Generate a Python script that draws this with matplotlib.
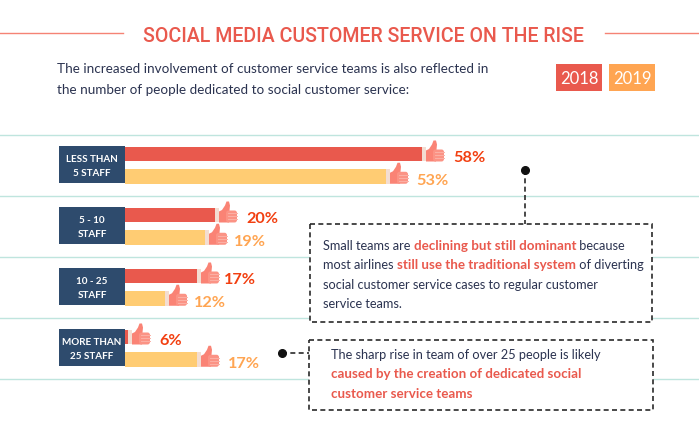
import matplotlib
matplotlib.use('Agg')
import matplotlib.pyplot as plt
import numpy as np
from matplotlib.patches import Rectangle, Polygon, FancyBboxPatch

# Values
categories = ['LESS THAN\n5 STAFF', '5 - 10\nSTAFF', '10 - 25\nSTAFF', 'MORE THAN\n25 STAFF']
values_2018 = [58, 20, 17, 6]
values_2019 = [53, 19, 12, 17]

title = 'SOCIAL MEDIA CUSTOMER SERVICE ON THE RISE'
intro = ['The increased involvement of customer service teams is also reflected in',
         'the number of people dedicated to social customer service:']
note_small = [[('Small teams are ', 0), ('declining but still dominant', 1), (' because', 0)],
              [('most airlines ', 0), ('still use the traditional system', 1), (' of diverting', 0)],
              [('social customer service cases to regular customer', 0)],
              [('service teams.', 0)]]
note_large = [[('The sharp rise in team of over 25 people is likely', 0)],
              [('caused by the creation of dedicated social', 1)],
              [('customer service teams', 1)]]

RED = '#E9594D'
YELLOW = '#FFCC73'
ORANGE = '#FFA552'
LABEL_RED = '#F23F10'
NAVY = '#2E4B6D'
INK = '#2B3350'
RULE = '#BFE5DE'
FONT = 'Lato'

W, H = 699, 435
fig = plt.figure(figsize=(W / 100, H / 100), dpi=100)

# page axes in pixels, y going down
page = fig.add_axes([0, 0, 1, 1])
page.set_xlim(0, W)
page.set_ylim(H, 0)
page.axis('off')

# the source bars are not quite linear, so the x scale follows its printed lengths
scale_pct = [0, 6, 12, 17, 19, 20, 53, 58, 100]
scale_px = [0, 3, 40, 72, 80, 90, 261, 297, 574]


def to_px(v):
    return np.interp(v, scale_pct, scale_px)


def from_px(p):
    return np.interp(p, scale_px, scale_pct)


chart = fig.add_axes([125 / W, 1 - 379.5 / H, 574 / W, 244 / H])
chart.set_xscale('function', functions=(to_px, from_px))
chart.set_xlim(0, 100)
chart.set_ylim(3.5, -0.5)
chart.axis('off')
chart.patch.set_alpha(0)

y_pos = np.arange(len(categories))
chart.barh(y_pos - 0.18, values_2018, height=0.245, color=RED, zorder=3)
chart.barh(y_pos + 0.185, values_2019, height=0.245, color=YELLOW, zorder=3)


def draw_hand(x, y):
    # x is the bar end, y the bar bottom, both in page pixels
    page.add_patch(Rectangle((x, y - 14.5), 4, 14.5, color='#F3DDD2', lw=0, zorder=5))
    thumb = [(x + 4, y - 11), (x + 7, y - 12.5), (x + 10, y - 17), (x + 11.5, y - 21),
             (x + 14, y - 21), (x + 15, y - 17), (x + 14.5, y - 12), (x + 14, y), (x + 4, y)]
    page.add_patch(Polygon(thumb, closed=True, color='#FA8375', lw=0, zorder=5))
    page.add_patch(FancyBboxPatch((x + 11, y - 12), 11, 12, boxstyle='round,pad=0,rounding_size=2.5',
                                  color='#FB9385', lw=0, zorder=5))
    for k in range(1, 4):
        page.plot([x + 12.5, x + 22], [y - k * 3] * 2, color='#FBB0A5', lw=0.7, zorder=6)


def run_width(s, **kw):
    # trailing spaces are not measured, so measure against a closing bar
    r = fig.canvas.get_renderer()
    a = page.text(0, 0, s + '|', **kw)
    b = page.text(0, 0, '|', **kw)
    w = a.get_window_extent(r).width - b.get_window_extent(r).width
    a.remove()
    b.remove()
    return w


def draw_runs(x, y, runs):
    for s, hot in runs:
        kw = dict(fontsize=9.6 if hot else 9.2, family=FONT, color=RED if hot else INK,
                  fontweight='bold' if hot else 'normal')
        page.text(x, y, s, va='center', ha='left', zorder=8, **kw)
        x += run_width(s, **kw)


# rules across the chart
for y in [135.5, 196.5, 257.5, 318.5, 379.5]:
    page.plot([0, W], [y, y], color=RULE, lw=1, zorder=1)

# title with side rules
page.plot([0, 123], [34, 34], color='#F58375', lw=1)
page.plot([605, W], [34, 34], color='#F58375', lw=1)
page.text(363.5, 37, title, ha='center', va='center', fontsize=14.1, family='Roboto', color=RED,
          fontweight='medium')

for line, y in zip(intro, [69, 90]):
    page.text(57, y, line, ha='left', va='center', fontsize=9.7, family=FONT, color=INK)

# legend chips
page.add_patch(Rectangle((556, 65), 46, 27, color=RED, lw=0))
page.add_patch(Rectangle((609, 65), 46, 27, color=ORANGE, lw=0))
page.text(579, 79.5, '2018', ha='center', va='center', fontsize=12, family=FONT, color='white')
page.text(632, 79.5, '2019', ha='center', va='center', fontsize=12, family=FONT, color='white')

fig.canvas.draw()

# category boxes, hands and percent labels
gap_2018 = [31, 31, 27, 31]
gap_2019 = [30, 29, 29, 31]
for i, cat in enumerate(categories):
    px_top = H - chart.transData.transform((1, y_pos[i] - 0.18 + 0.1225))[1]
    px_bottom = H - chart.transData.transform((1, y_pos[i] + 0.185 + 0.1225))[1]
    page.add_patch(Rectangle((59, H - chart.transData.transform((1, y_pos[i] - 0.305))[1]), 66, 37,
                             color=NAVY, lw=0, zorder=4))
    page.text(92, H - chart.transData.transform((1, y_pos[i]))[1] + 0.5, cat, ha='center', va='center',
              fontsize=7.1, family=FONT, color='white', fontweight='bold', linespacing=1.6, zorder=7)

    x18 = chart.transData.transform((values_2018[i], 0))[0]
    draw_hand(x18, px_top)
    page.text(x18 + gap_2018[i], px_top - 4.5, f'{values_2018[i]}%', ha='left', va='center', fontsize=11.7,
              family=FONT, color=LABEL_RED, fontweight='bold', zorder=7)

    x19 = chart.transData.transform((values_2019[i], 0))[0]
    draw_hand(x19, px_bottom)
    page.text(x19 + gap_2019[i], px_bottom - 4, f'{values_2019[i]}%', ha='left', va='center', fontsize=11.7,
              family=FONT, color=ORANGE, fontweight='bold', zorder=7)

# callouts
DASH = (0, (3, 2))
page.add_patch(Rectangle((309.5, 225), 342.5, 98, fc='white', ec='#2A2A2A', lw=1.2, ls=DASH, zorder=6))
page.add_patch(Rectangle((308.5, 341), 344, 69.5, fc='white', ec='#2A2A2A', lw=1.2, ls=DASH, zorder=6))
page.plot([525, 525], [171, 225], color='#2A2A2A', lw=1.2, ls=DASH, zorder=5)
page.plot([282, 309], [354, 354], color='#2A2A2A', lw=1.2, ls=DASH, zorder=5)
page.plot([525, 282], [171, 354], ls='none', marker='o', ms=5.5, color='#111111', zorder=7)

for runs, y in zip(note_small, [246.5, 265.5, 285, 304.5]):
    draw_runs(323, y, runs)
for runs, y in zip(note_large, [355, 374, 394]):
    draw_runs(331, y, runs)

fig.savefig('out.png', dpi=100)
